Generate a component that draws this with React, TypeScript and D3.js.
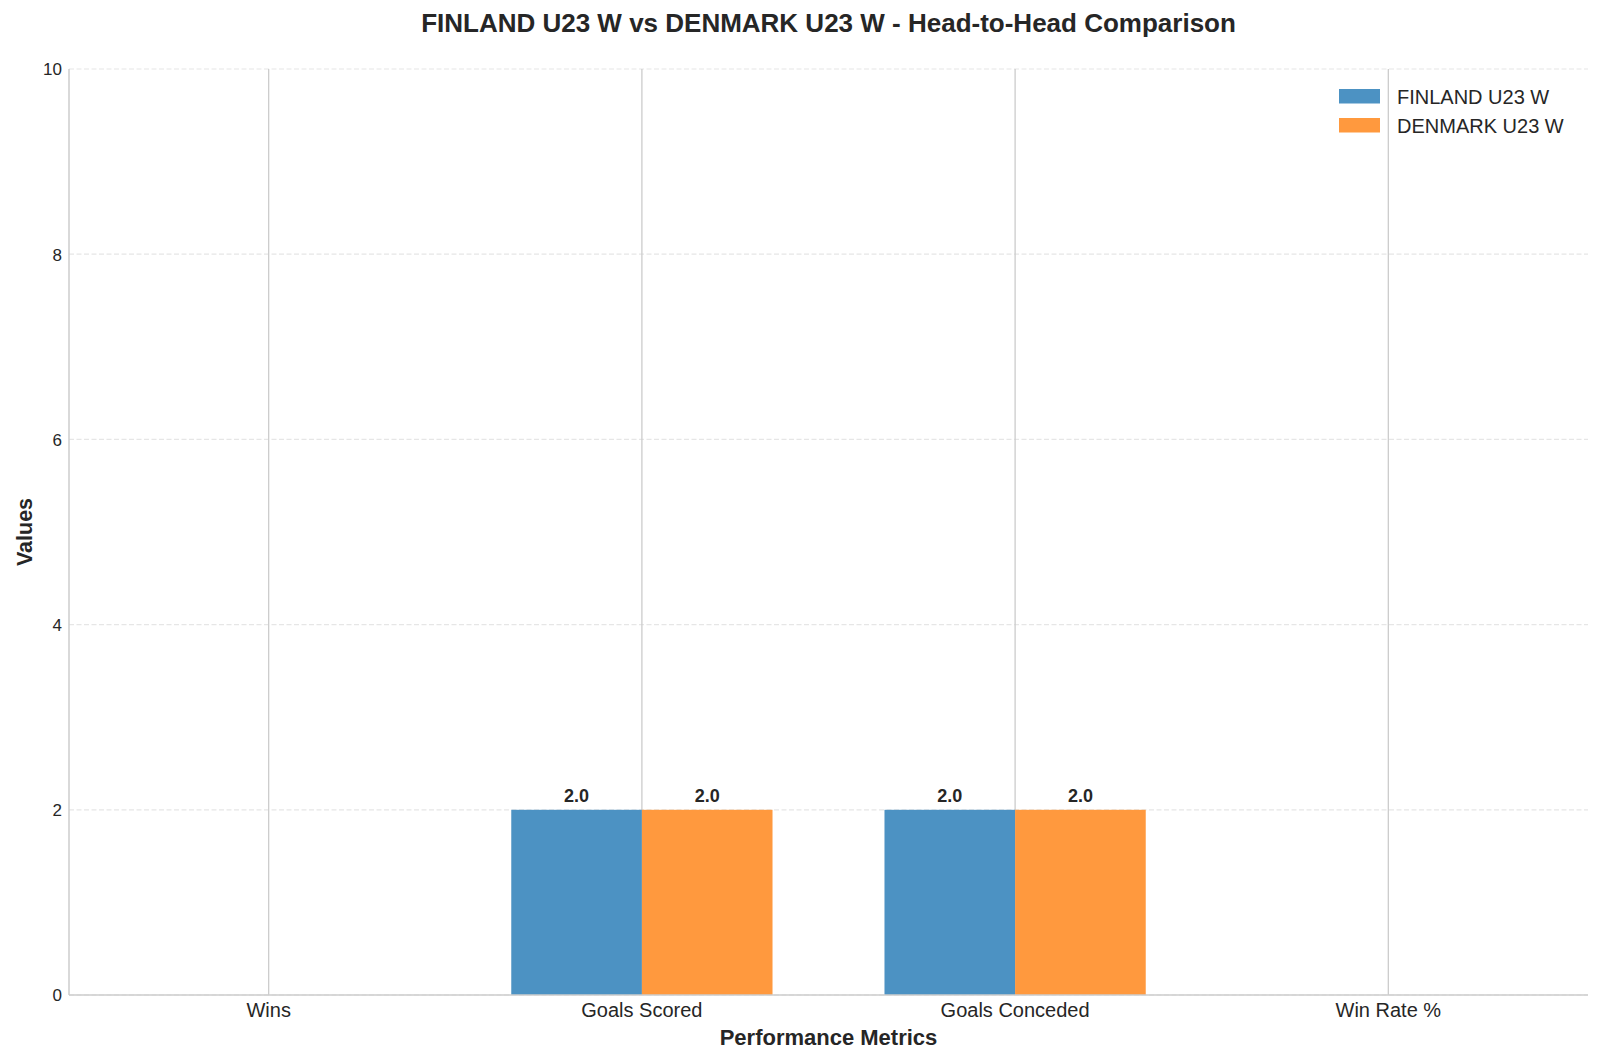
import React from "react";
import * as d3 from "d3";

const categories = ["Wins", "Goals Scored", "Goals Conceded", "Win Rate %"];
const seriesNames = ["FINLAND U23 W", "DENMARK U23 W"];
const finlandValues = [0, 2, 2, 0];
const denmarkValues = [0, 2, 2, 0];
const yTicks = [0, 2, 4, 6, 8, 10];
const colors = ["#4c92c3", "#ff993e"];

const W = 1600;
const H = 1063;
const M = { left: 69, right: 1588, top: 69, bottom: 995 };
const FONT = "'Liberation Sans', Arial, 'DejaVu Sans', sans-serif";
const TXT = "#262626";

export default function App() {
  const barW = 0.35;
  const x = d3.scaleLinear().domain([-0.535, 3.535]).range([M.left, M.right]);
  const y = d3.scaleLinear().domain([0, 10]).range([M.bottom, M.top]);
  const series = [finlandValues, denmarkValues];

  return (
    <svg
      width={W}
      height={H}
      style={{ position: "absolute", left: 0, top: 0, background: "#fff" }}
      fontFamily={FONT}
    >
      <rect x={0} y={0} width={W} height={H} fill="#fff" />
      {/* horizontal dashed grid */}
      {yTicks.map((t) => (
        <line
          key={"hg" + t}
          x1={M.left}
          x2={M.right}
          y1={y(t)}
          y2={y(t)}
          stroke="#e6e6e6"
          strokeWidth={1.2}
          strokeDasharray="5,2.5"
        />
      ))}
      {/* vertical grid */}
      {categories.map((c, i) => (
        <line
          key={"vg" + c}
          x1={x(i)}
          x2={x(i)}
          y1={M.top}
          y2={M.bottom}
          stroke="#cccccc"
          strokeWidth={1.3}
        />
      ))}
      {/* bars */}
      {series.map((vals, s) =>
        vals.map((v, i) => {
          const x0 = x(i + (s === 0 ? -barW : 0));
          const x1 = x(i + (s === 0 ? 0 : barW));
          return (
            <rect
              key={`b${s}-${i}`}
              x={x0}
              y={y(v)}
              width={x1 - x0}
              height={y(0) - y(v)}
              fill={colors[s]}
            />
          );
        })
      )}
      {/* value labels */}
      {series.map((vals, s) =>
        vals.map((v, i) =>
          v > 0 ? (
            <text
              key={`l${s}-${i}`}
              x={x(i + (s === 0 ? -barW / 2 : barW / 2))}
              y={y(v) - 8}
              textAnchor="middle"
              fontSize={18}
              fontWeight="bold"
              fill={TXT}
            >
              {v.toFixed(1)}
            </text>
          ) : null
        )
      )}
      {/* spines */}
      <line x1={M.left} x2={M.left} y1={M.top} y2={M.bottom} stroke="#cccccc" strokeWidth={1.5} />
      <line x1={M.left} x2={M.right} y1={M.bottom} y2={M.bottom} stroke="#cccccc" strokeWidth={1.5} />
      {/* y tick labels */}
      {yTicks.map((t) => (
        <text key={"yt" + t} x={62} y={y(t) + 6.3} textAnchor="end" fontSize={17} fill={TXT}>
          {t}
        </text>
      ))}
      {/* x tick labels */}
      {categories.map((c, i) => (
        <text key={"xt" + c} x={x(i)} y={1017} textAnchor="middle" fontSize={20} fill={TXT}>
          {c}
        </text>
      ))}
      {/* axis labels */}
      <text
        x={(M.left + M.right) / 2}
        y={1045}
        textAnchor="middle"
        fontSize={22}
        fontWeight="bold"
        fill={TXT}
      >
        Performance Metrics
      </text>
      <text
        transform={`translate(32, ${(M.top + M.bottom) / 2}) rotate(-90)`}
        textAnchor="middle"
        fontSize={21.5}
        fontWeight="bold"
        fill={TXT}
      >
        Values
      </text>
      {/* title */}
      <text
        x={(M.left + M.right) / 2}
        y={32}
        textAnchor="middle"
        fontSize={26}
        fontWeight="bold"
        fill={TXT}
      >
        FINLAND U23 W vs DENMARK U23 W - Head-to-Head Comparison
      </text>
      {/* legend */}
      {seriesNames.map((n, s) => (
        <g key={"lg" + n} transform={`translate(1339, ${89 + s * 29})`}>
          <rect x={0} y={0} width={41} height={14.5} fill={colors[s]} />
          <text x={58} y={14.5} fontSize={20} fill={TXT}>
            {n}
          </text>
        </g>
      ))}
    </svg>
  );
}
